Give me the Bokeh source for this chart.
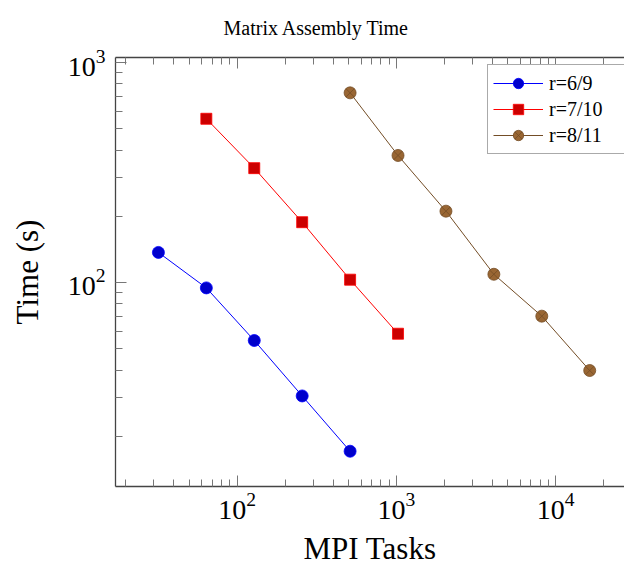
from bokeh.plotting import figure
from bokeh.models import (Range1d, FixedTicker, LogAxis, LogTickFormatter,
                          Legend, LegendItem)
from bokeh.embed import file_html
from bokeh.resources import INLINE

# ---- data ----
tasks_r6 = [32, 64, 128, 256, 512]
time_r6 = [137, 94.5, 54.5, 30.5, 17.1]
tasks_r7 = [64, 128, 256, 512, 1024]
time_r7 = [555, 331, 188, 103, 58.5]
tasks_r8 = [512, 1024, 2048, 4096, 8192, 16384]
time_r8 = [728, 378, 211, 109, 70.3, 39.8]
series_labels = ["r=6/9", "r=7/10", "r=8/11"]
chart_title = "Matrix Assembly Time"

x_major_ticks = [100, 1000, 10000]
y_major_ticks = [100, 1000]
x_minor_ticks = [m * 10 ** k for k in (1, 2, 3, 4) for m in range(2, 10)]
y_minor_ticks = [m * 10 ** k for k in (1, 2) for m in range(2, 10)]

FONT = "Liberation Serif"

p = figure(width=624, height=568,
           x_axis_type="log", y_axis_type="log",
           x_range=Range1d(17.2, 27100), y_range=Range1d(11.82, 1054),
           output_backend="svg", toolbar_location=None,
           min_border_left=115, min_border_right=0,
           min_border_top=57, min_border_bottom=82,
           background_fill_color="white", border_fill_color="white")

p.title.text = chart_title
p.title.align = "left"
p.title.vertical_align = "top"
p.title.offset = 108
p.title.standoff = 33
p.title.text_font = FONT
p.title.text_font_size = "20px"
p.title.text_font_style = "normal"
p.title.text_color = "black"

p.grid.visible = False
p.outline_line_color = None


def style_axis(ax, ticks, minor):
    ax.ticker = FixedTicker(ticks=ticks, minor_ticks=minor)
    ax.formatter = LogTickFormatter()
    ax.major_tick_in = 11
    ax.major_tick_out = 0
    ax.minor_tick_in = 7
    ax.minor_tick_out = 0
    ax.major_tick_line_color = "#777777"
    ax.minor_tick_line_color = "#777777"
    ax.major_tick_line_width = 1
    ax.minor_tick_line_width = 1
    ax.axis_line_color = "#444444"
    ax.axis_line_width = 1.3
    ax.major_label_text_font = FONT
    ax.major_label_text_font_size = "28px"
    ax.major_label_text_color = "black"
    ax.axis_label_text_font = FONT
    ax.axis_label_text_font_size = "31px"
    ax.axis_label_text_font_style = "normal"
    ax.axis_label_text_color = "black"


style_axis(p.xaxis[0], x_major_ticks, x_minor_ticks)
style_axis(p.yaxis[0], y_major_ticks, y_minor_ticks)
p.xaxis[0].axis_label = "MPI Tasks"
p.yaxis[0].axis_label = "Time (s)"
p.xaxis[0].major_label_standoff = 6
p.yaxis[0].major_label_standoff = 10
p.xaxis[0].axis_label_standoff = 9
p.yaxis[0].axis_label_standoff = 20

top_axis = LogAxis()
style_axis(top_axis, x_major_ticks, x_minor_ticks)
top_axis.major_label_text_font_size = "2px"
top_axis.major_label_text_alpha = 0
top_axis.major_label_standoff = 0
p.add_layout(top_axis, "above")

# ---- series ----
l6 = p.line(tasks_r6, time_r6, line_color="#0000ff", line_width=1)
s6 = p.scatter(tasks_r6, time_r6, marker="circle", size=12,
               fill_color="#0000cc", line_color="#0000ff", line_width=0.8)
l7 = p.line(tasks_r7, time_r7, line_color="#ff0000", line_width=1)
s7 = p.scatter(tasks_r7, time_r7, marker="square", size=11,
               fill_color="#cc0000", line_color="#ff0000", line_width=0.8)
l8 = p.line(tasks_r8, time_r8, line_color="#734d26", line_width=1)
s8 = p.scatter(tasks_r8, time_r8, marker="circle_x", size=12,
               fill_color="#996633", line_color="#734d26", line_width=0.8)

legend = Legend(items=[
    LegendItem(label=series_labels[0], renderers=[l6, s6]),
    LegendItem(label=series_labels[1], renderers=[l7, s7]),
    LegendItem(label=series_labels[2], renderers=[l8, s8]),
], location=(372, 332))
legend.label_text_font = FONT
legend.label_text_font_size = "20px"
legend.label_text_color = "black"
legend.glyph_width = 50
legend.glyph_height = 26
legend.label_height = 20
legend.label_width = 70
legend.label_standoff = 6
legend.padding = 5
legend.spacing = 0
legend.border_line_color = "#555555"
legend.border_line_width = 1
legend.background_fill_color = "white"
legend.background_fill_alpha = 1
p.add_layout(legend)

open("out.html", "w").write(file_html(p, INLINE))
